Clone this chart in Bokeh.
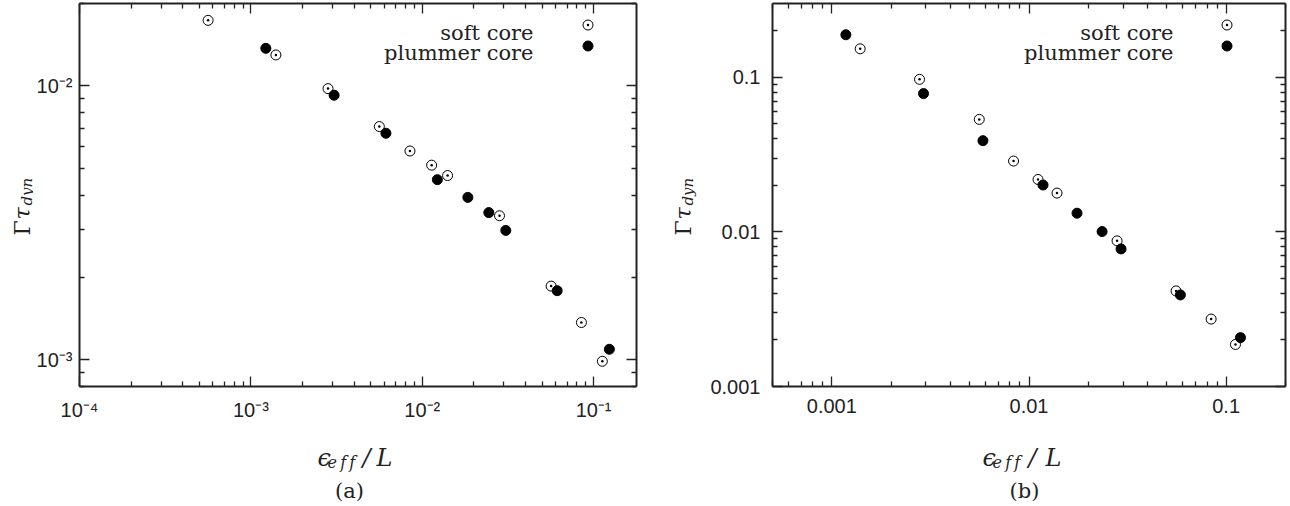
import math

from bokeh.embed import file_html
from bokeh.layouts import column, row
from bokeh.models import (FixedTicker, Label, Legend, LegendItem, LogAxis,
                          Range1d)
from bokeh.plotting import figure
from bokeh.resources import INLINE

# ---------------------------------------------------------------- data
# (a) growth rate vs. effective softening, log-log
soft_a_x = [5.63e-4, 1.40e-3, 2.82e-3, 5.62e-3, 8.48e-3, 1.135e-2, 1.406e-2,
            2.825e-2, 5.65e-2, 8.49e-2, 1.125e-1]
soft_a_y = [1.736e-2, 1.298e-2, 9.78e-3, 7.11e-3, 5.79e-3, 5.14e-3, 4.71e-3,
            3.36e-3, 1.86e-3, 1.37e-3, 9.89e-4]
plum_a_x = [1.223e-3, 3.06e-3, 6.14e-3, 1.225e-2, 1.846e-2, 2.447e-2,
            3.074e-2, 6.13e-2, 1.236e-1]
plum_a_y = [1.372e-2, 9.25e-3, 6.72e-3, 4.55e-3, 3.92e-3, 3.45e-3, 2.97e-3,
            1.79e-3, 1.094e-3]

# (b) same quantity, second set of runs
soft_b_x = [1.392e-3, 2.785e-3, 5.594e-3, 8.35e-3, 1.111e-2, 1.387e-2,
            2.797e-2, 5.57e-2, 8.39e-2, 1.115e-1]
soft_b_y = [0.1528, 0.0970, 0.0534, 0.02872, 0.02183, 0.01782, 0.00875,
            0.00415, 0.00273, 0.00187]
plum_b_x = [1.178e-3, 2.917e-3, 5.84e-3, 1.178e-2, 1.752e-2, 2.348e-2,
            2.93e-2, 5.86e-2, 1.182e-1]
plum_b_y = [0.1883, 0.0784, 0.0389, 0.0201, 0.01321, 0.01005, 0.00776,
            0.00391, 0.00207]

series_names = ["soft core", "plummer core"]
panel_tags = ["(a)", "(b)"]

# tick labels
xticks_a = {1e-4: "10\u207b\u2074", 1e-3: "10\u207b\u00b3",
            1e-2: "10\u207b\u00b2", 1e-1: "10\u207b\u00b9"}
yticks_a = {1e-3: "10\u207b\u00b3", 1e-2: "10\u207b\u00b2"}
xticks_b = {1e-3: "0.001", 1e-2: "0.01", 1e-1: "0.1"}
yticks_b = {1e-3: "0.001", 1e-2: "0.01", 1e-1: "0.1"}

INK = "#222222"
TICK_FONT = "Liberation Sans"
SERIF = "DejaVu Serif"
PANEL_W, PANEL_H = 645, 506
TOP_H = 428            # height of the strip holding the plot and its ticks
FRAME_TOP, FRAME_BOTTOM = 3, 386


def minor_ticks(lo, hi):
    out = []
    for e in range(-6, 2):
        for m in range(2, 10):
            v = m * 10.0 ** e
            if lo <= v <= hi:
                out.append(v)
    return out


def style_axis(ax, labels, lo, hi, show_labels, standoff=12):
    majors = list(labels.keys())
    ax.ticker = FixedTicker(ticks=majors, minor_ticks=minor_ticks(lo, hi))
    ax.axis_line_color = INK
    ax.axis_line_width = 2
    ax.major_tick_line_color = INK
    ax.minor_tick_line_color = INK
    ax.major_tick_line_width = 1.3
    ax.minor_tick_line_width = 1.3
    ax.major_tick_in = 10
    ax.major_tick_out = 0
    ax.minor_tick_in = 5
    ax.minor_tick_out = 0
    if show_labels:
        ax.major_label_overrides = dict(labels)
        ax.major_label_text_font = TICK_FONT
        ax.major_label_text_font_size = "20px"
        ax.major_label_text_color = INK
        ax.major_label_standoff = standoff
    else:
        ax.major_label_overrides = {k: "" for k in majors}
        ax.major_label_text_font_size = "0px"
        ax.major_label_standoff = 0


def blank(width, height):
    """A bare canvas (no axes) used to hold text."""
    f = figure(width=width, height=height, x_range=Range1d(0, 1),
               y_range=Range1d(0, 1), x_axis_location=None,
               y_axis_location=None, output_backend="svg",
               toolbar_location=None, min_border=0)
    f.grid.visible = False
    f.outline_line_color = None
    f.background_fill_color = "white"
    f.border_fill_color = "white"
    return f


def label(fig, sx, sy, text, size, style="normal", angle=0.0, align="left",
          baseline="alphabetic", font=SERIF):
    fig.add_layout(Label(x=sx, y=sy, x_units="screen", y_units="screen",
                         text=text, text_font=font, text_font_size=f"{size}px",
                         text_font_style=style, text_color=INK, angle=angle,
                         text_align=align, text_baseline=baseline))


def make_panel(xr, yr, xt, yt, sx, sy, px, py, frame_left, frame_right,
               ylab_w, ystandoff, spec):
    # ---- main plot
    main_w = PANEL_W - ylab_w
    p = figure(width=main_w, height=TOP_H, x_axis_type="log",
               y_axis_type="log", x_range=Range1d(*xr), y_range=Range1d(*yr),
               output_backend="svg", toolbar_location=None,
               min_border_left=frame_left - ylab_w,
               min_border_right=PANEL_W - frame_right,
               min_border_top=FRAME_TOP,
               min_border_bottom=TOP_H - FRAME_BOTTOM)
    p.grid.visible = False
    p.outline_line_color = None
    p.background_fill_color = "white"
    p.border_fill_color = "white"

    style_axis(p.xaxis[0], xt, *xr, True)
    style_axis(p.yaxis[0], yt, *yr, True, standoff=ystandoff)
    top, right = LogAxis(), LogAxis()
    style_axis(top, xt, *xr, False)
    style_axis(right, yt, *yr, False)
    p.add_layout(top, "above")
    p.add_layout(right, "right")

    r_soft = p.scatter(sx, sy, marker="circle_dot", size=10,
                       line_color="black", line_width=1, fill_color=None)
    r_plum = p.scatter(px, py, marker="circle", size=10,
                       line_color="black", fill_color="black")

    def fx(X):
        return X - frame_left

    def fy(Y):
        return FRAME_BOTTOM - Y

    # key: text on the left, marker sample on the right
    kx, mx = spec["key_text_x"], spec["key_marker_x"]
    label(p, fx(kx), fy(32), series_names[0], 21, align="right")
    label(p, fx(kx), fy(52), series_names[1], 21, align="right")
    for r, yc in ((r_soft, 24), (r_plum, 45)):
        lg = Legend(items=[LegendItem(label=" ", renderers=[r])],
                    location=(fx(mx - 12.5), fy(yc + 12.5)),
                    glyph_width=25, glyph_height=25, label_height=25,
                    label_width=0, label_standoff=0, spacing=0, padding=0,
                    margin=0, border_line_color=None,
                    background_fill_alpha=0, label_text_font_size="4px")
        p.add_layout(lg)

    # ---- rotated y label: Gamma tau_dyn (its frame lines up with the plot's)
    yl = blank(ylab_w, TOP_H)
    bx = spec["ylab_x"]
    up = math.pi / 2
    label(yl, bx, fy(235), "\u0393", 22, angle=up)
    label(yl, bx, fy(219), "\u03c4", 22, style="italic", angle=up)
    label(yl, bx + 4, fy(205), "dyn", 15, style="italic", angle=up)

    # ---- x label eps_eff / L and panel tag
    xl = blank(PANEL_W, PANEL_H - TOP_H)
    ex = spec["xlab_x"]
    label(xl, ex[0] + 2, PANEL_H - 457, "\u03f5", 24, style="italic")
    label(xl, ex[1], PANEL_H - 462, "e\u2009f\u2009f", 16, style="italic")
    label(xl, ex[2], PANEL_H - 457, "/", 24, style="italic")
    label(xl, ex[3], PANEL_H - 457, "L", 24, style="italic")
    label(xl, spec["tag_x"], PANEL_H - 490, spec["tag"], 21, align="center",
          baseline="middle")
    return column(row(yl, p, spacing=0), xl, spacing=0)


pa = make_panel((1e-4, 0.178), (8e-4, 0.02), xticks_a, yticks_a,
                soft_a_x, soft_a_y, plum_a_x, plum_a_y,
                frame_left=79, frame_right=636, ylab_w=33, ystandoff=7,
                spec=dict(key_text_x=533, key_marker_x=587,
                          xlab_x=(315, 327, 362, 376), ylab_x=22,
                          tag_x=349, tag=panel_tags[0]))

# second panel: its coordinates start at the panel's own left edge
OFF = 645
pb = make_panel((5e-4, 0.2), (1e-3, 0.3), xticks_b, yticks_b,
                soft_b_x, soft_b_y, plum_b_x, plum_b_y,
                frame_left=772 - OFF, frame_right=1285 - OFF, ylab_w=58,
                ystandoff=12,
                spec=dict(key_text_x=1173 - OFF, key_marker_x=1226 - OFF,
                          xlab_x=(980 - OFF, 992 - OFF, 1028 - OFF,
                                  1045 - OFF),
                          ylab_x=683 - OFF,
                          tag_x=1024 - OFF, tag=panel_tags[1]))

page = row(pa, pb, spacing=0)
open("out.html", "w").write(file_html(page, INLINE))
